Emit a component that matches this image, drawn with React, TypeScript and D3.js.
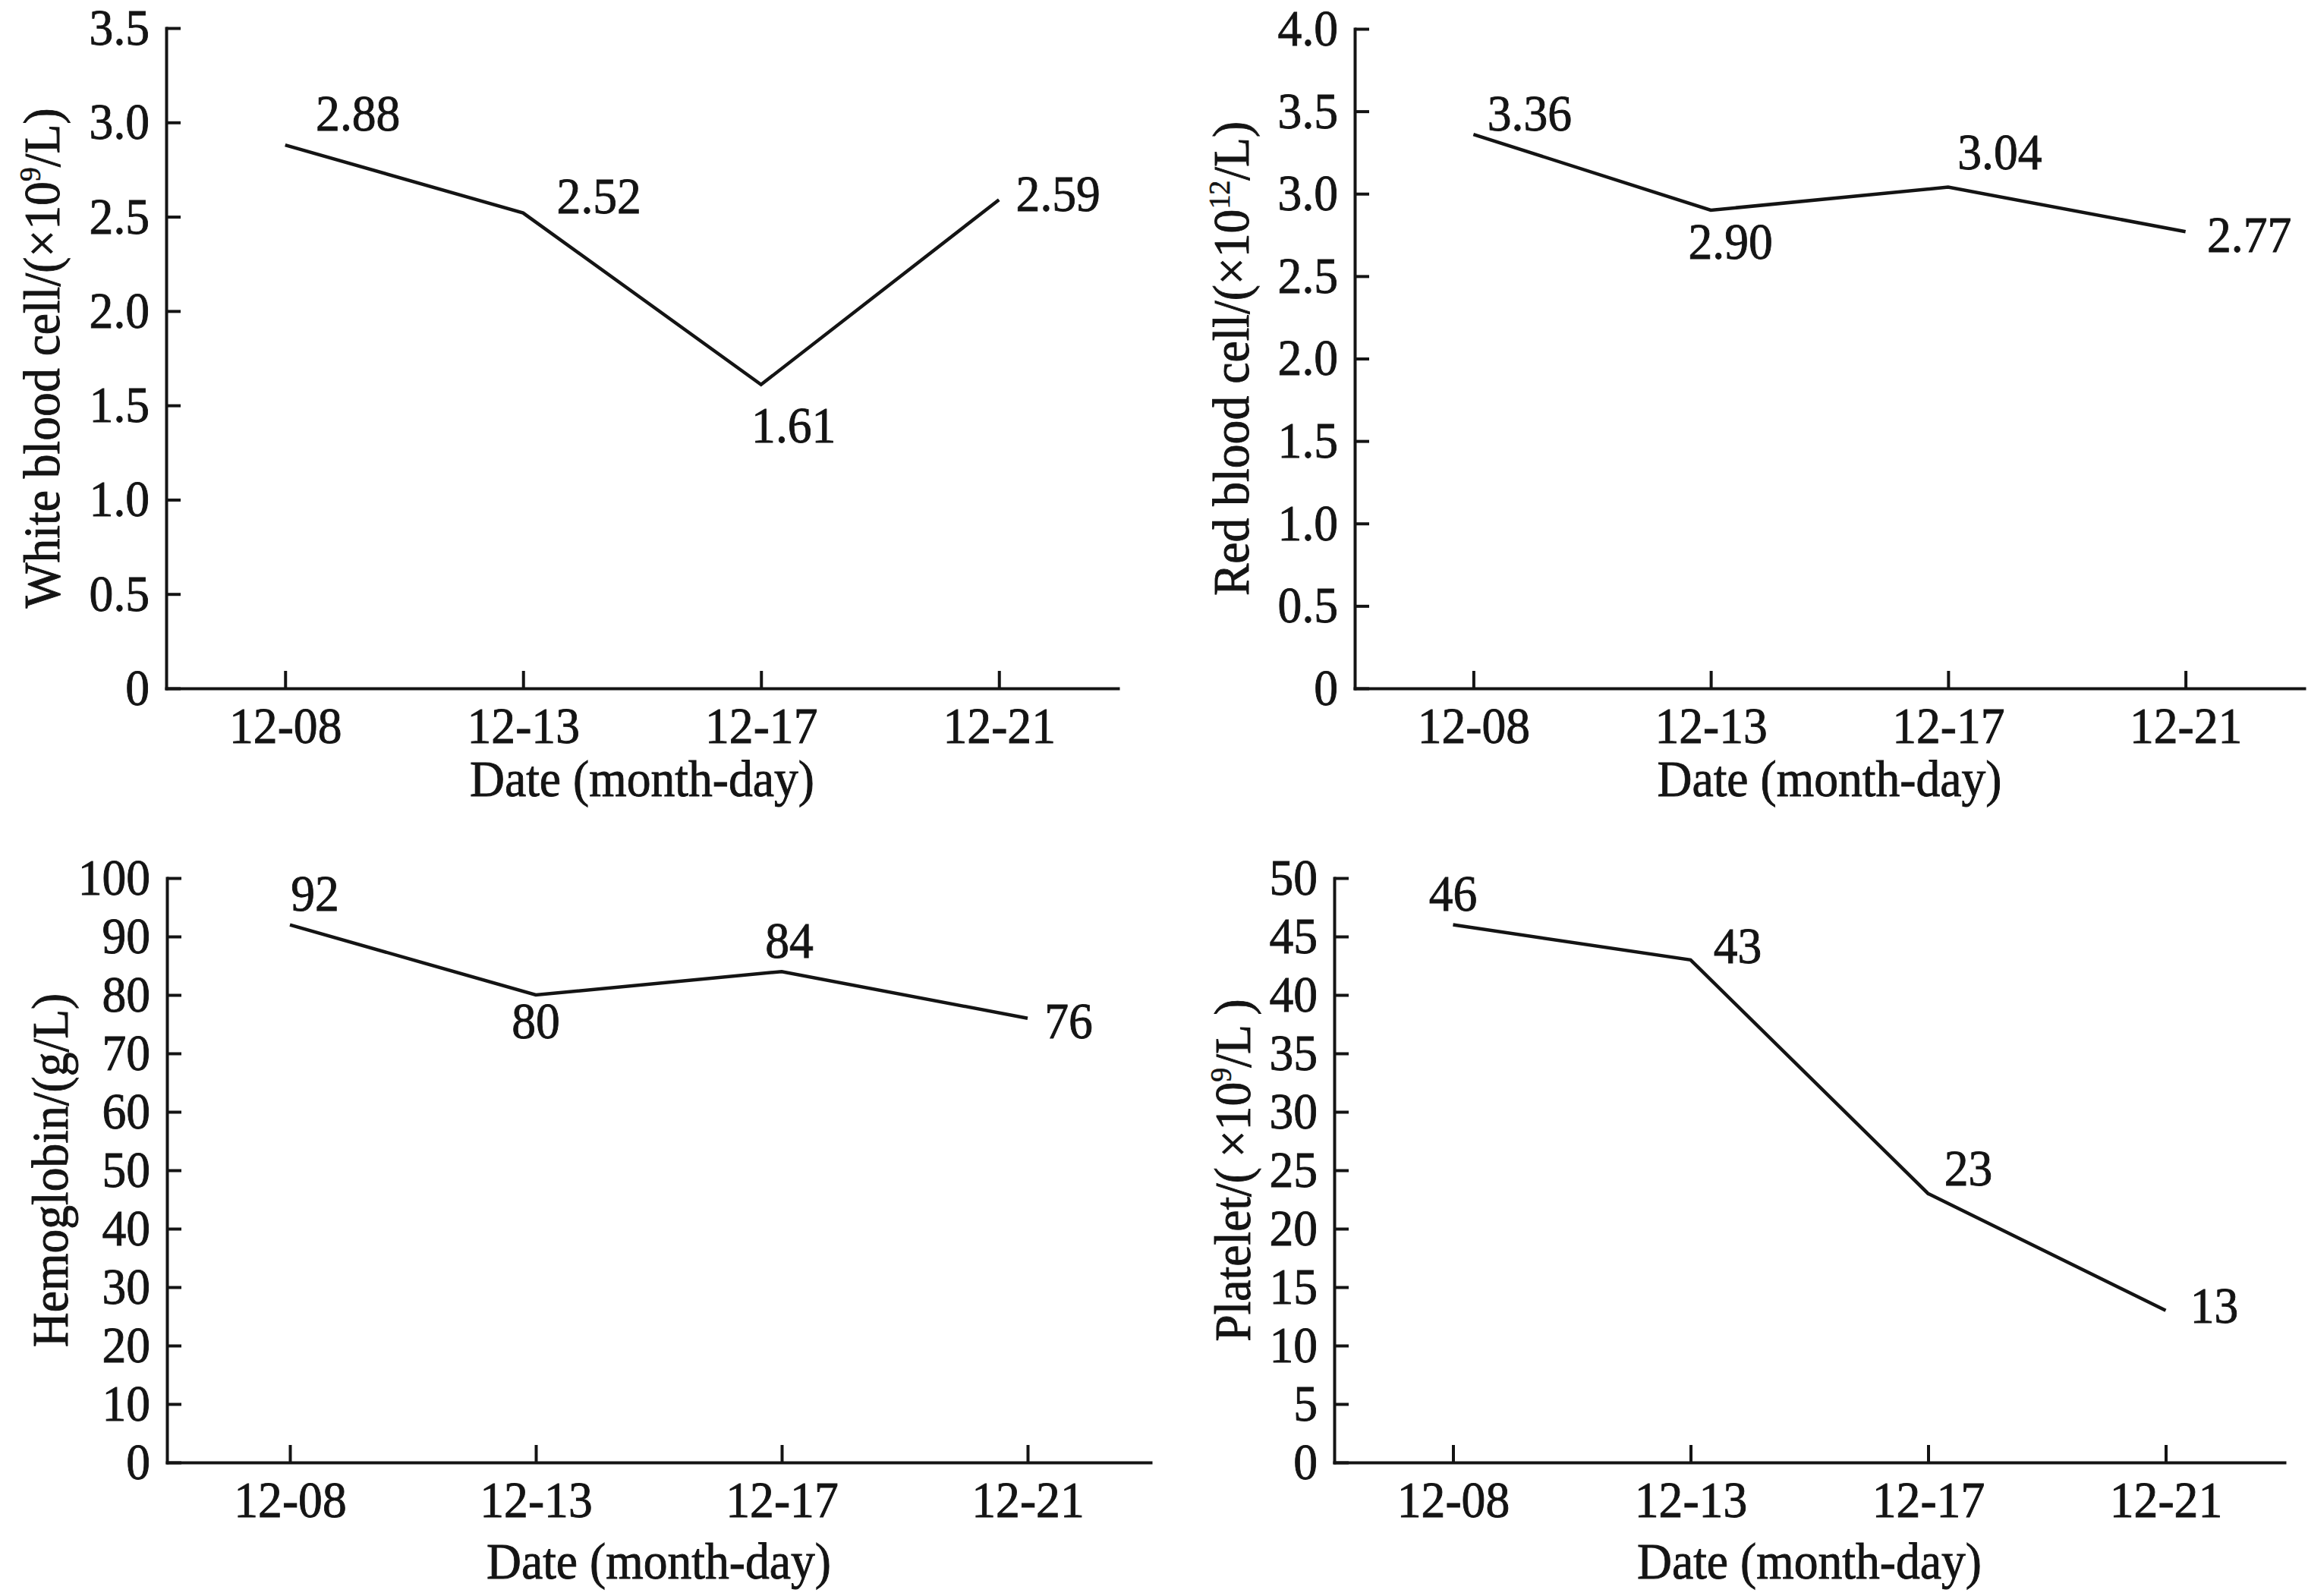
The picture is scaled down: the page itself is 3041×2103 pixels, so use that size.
import * as d3 from 'd3';
import { useEffect, useRef } from 'react';

// values
const dates = ['12-08', '12-13', '12-17', '12-21'];
const whiteBloodCell = [2.88, 2.52, 1.61, 2.59];
const redBloodCell = [3.36, 2.90, 3.04, 2.77];
const hemoglobin = [92, 80, 84, 76];
const platelet = [46, 43, 23, 13];

const wbcTicks = [0, 0.5, 1.0, 1.5, 2.0, 2.5, 3.0, 3.5];
const rbcTicks = [0, 0.5, 1.0, 1.5, 2.0, 2.5, 3.0, 3.5, 4.0];
const hbTicks = [0, 10, 20, 30, 40, 50, 60, 70, 80, 90, 100];
const pltTicks = [0, 5, 10, 15, 20, 25, 30, 35, 40, 45, 50];

const xTitle = 'Date (month-day)';

const FONT = '"Liberation Serif", "Times New Roman", serif';
const FONT_SIZE = 67;
const SQUEEZE = 'scale(0.95,1)'; // the figure's serif is a touch taller than Times
const INK = '#141414';
const TOP = 4; // nudge everything down a bit so the top tick labels clear the edge

// layout of each panel (pixels) + where the value labels sit relative to their point
const panels: any[] = [
    {
        values: whiteBloodCell, ticks: wbcTicks, tickFmt: '.1f', valueFmt: '.2f',
        title: ['White blood cell/(×10', '9', '/L)'],
        xRange: [219, 1473], yRange: [903, 33], titleX: 78, xTitleDy: 142,
        labelOffsets: [[96, -19], [100, 0], [43, 76], [78, 15]],
    },
    {
        values: redBloodCell, ticks: rbcTicks, tickFmt: '.1f', valueFmt: '.2f',
        title: ['Red blood cell/(×10', '12', '/L)'],
        xRange: [1785, 3036], yRange: [903, 34], titleX: 1645, xTitleDy: 142,
        labelOffsets: [[74, -5], [26, 64], [68, -24], [84, 27]],
    },
    {
        values: hemoglobin, ticks: hbTicks, tickFmt: 'd', valueFmt: 'd',
        title: ['Hemoglobin/(g/L)'],
        xRange: [220, 1516], yRange: [1923, 1153], titleX: 89, xTitleDy: 153,
        labelOffsets: [[33, -19], [0, 57], [10, -18], [54, 26]],
    },
    {
        values: platelet, ticks: pltTicks, tickFmt: 'd', valueFmt: 'd',
        title: ['Platelet/(\u2009×10', '9', '/L\u2009)'],
        xRange: [1758, 3010], yRange: [1923, 1153], titleX: 1647, xTitleDy: 153,
        labelOffsets: [[0, -19], [62, 4], [53, -11], [64, 16]],
    },
];

const styleText = (s: any) => s
    .attr('font-family', FONT)
    .attr('font-size', FONT_SIZE)
    .attr('fill', INK)
    .attr('stroke', INK)
    .attr('stroke-width', 0.9);

export default function App() {
    const ref = useRef<any>(null);

    useEffect(() => {
        const svg = d3.select(ref.current);
        svg.selectAll('*').remove();
        const root = svg.append('g').attr('transform', `translate(0,${TOP})`);

        panels.forEach((p) => {
            const xScale = d3.scalePoint<string>().domain(dates).range(p.xRange).padding(0.5);
            const yScale = d3.scaleLinear().domain([0, p.ticks[p.ticks.length - 1]]).range(p.yRange);
            const fmt = d3.format(p.tickFmt);

            const g = root.append('g');

            const styleAxis = (s: any) => {
                s.select('.domain').attr('stroke', INK).attr('stroke-width', 4).attr('stroke-linecap', 'square');
                s.selectAll('.tick line').attr('stroke', INK).attr('stroke-width', 4);
                s.selectAll('.tick text').call(styleText).attr('transform', SQUEEZE);
            };

            // y axis, ticks pointing inward
            const yAxis = d3.axisLeft(yScale)
                .tickValues(p.ticks)
                .tickSizeInner(-19)
                .tickSizeOuter(0)
                .tickPadding(23)
                .tickFormat((d: any) => (d === 0 ? '0' : fmt(d)));

            g.append('g')
                .attr('transform', `translate(${p.xRange[0]},0)`)
                .call(yAxis)
                .call(styleAxis);

            // x axis
            const xAxis = d3.axisBottom(xScale)
                .tickSizeInner(-23)
                .tickSizeOuter(0)
                .tickPadding(24);

            g.append('g')
                .attr('transform', `translate(0,${p.yRange[0]})`)
                .call(xAxis)
                .call(styleAxis);

            // x title
            g.append('text')
                .attr('transform', `translate(${(p.xRange[0] + p.xRange[1]) / 2},${p.yRange[0] + p.xTitleDy}) ${SQUEEZE}`)
                .attr('text-anchor', 'middle')
                .call(styleText)
                .text(xTitle);

            // y title, rotated, with superscript exponent
            const yMid = (p.yRange[0] + p.yRange[1]) / 2;
            const title = g.append('text')
                .attr('transform', `translate(${p.titleX},${yMid}) rotate(-90) ${SQUEEZE}`)
                .attr('text-anchor', 'middle')
                .call(styleText);
            title.append('tspan').text(p.title[0]);
            if (p.title.length > 1) {
                title.append('tspan').attr('font-size', 40).attr('stroke-width', 0.6).attr('dy', -25).text(p.title[1]);
                title.append('tspan').attr('dy', 25).text(p.title[2]);
            }

            // the line
            const line = d3.line<number>()
                .x((d, i) => xScale(dates[i]) as number)
                .y((d) => yScale(d));

            g.append('path')
                .datum(p.values)
                .attr('d', line)
                .attr('fill', 'none')
                .attr('stroke', INK)
                .attr('stroke-width', 4.5)
                .attr('stroke-linejoin', 'miter');

            // value labels
            const vfmt = d3.format(p.valueFmt);
            g.selectAll('.value-label')
                .data(p.values)
                .join('text')
                .attr('class', 'value-label')
                .attr('transform', (d: any, i) => {
                    const lx = (xScale(dates[i]) as number) + p.labelOffsets[i][0];
                    const ly = yScale(d) + p.labelOffsets[i][1];
                    return `translate(${lx},${ly}) ${SQUEEZE}`;
                })
                .attr('text-anchor', 'middle')
                .call(styleText)
                .text((d: any) => vfmt(d));
        });
    });

    return (
        <>
            <style>{'body{margin:0;background:#fff}'}</style>
            <svg ref={ref} width={3041} height={2103} style={{ display: 'block', background: '#fff' }}></svg>
        </>
    );
}
